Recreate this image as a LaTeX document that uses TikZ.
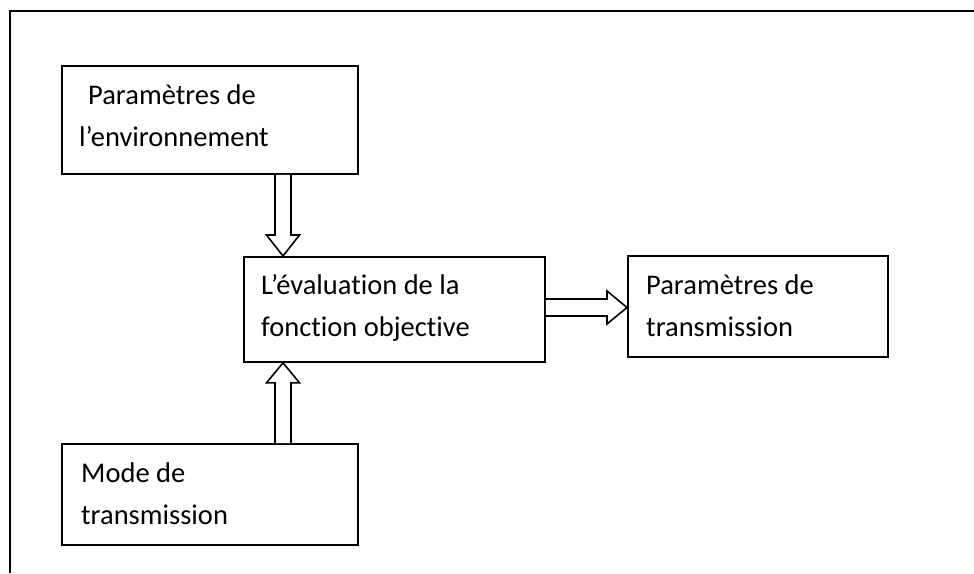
\documentclass[tikz,border=0pt]{standalone}
\usepackage{fontspec}
\setmainfont{Carlito}[Ligatures={NoCommon}]
\usetikzlibrary{calc}
\begin{document}
\begin{tikzpicture}[x=1pt,y=-1pt,
  box/.style={draw, line width=1.8pt, rectangle, inner sep=0pt, anchor=north west},
  lbl/.style={anchor=base west, inner sep=0pt, align=left, font=\fontsize{28.5}{42}\selectfont},
  blockarr/.style={draw, line width=1.6pt, fill=white, line join=miter}
]
\useasboundingbox (0,0) rectangle (974,573);
% outer frame (partly cut)
\draw[line width=2.3pt] (10,573) -- (10,11) -- (974,11);
% boxes
\node[box, minimum width=296pt, minimum height=108pt] (env) at (61,65) {};
\node[box, minimum width=301pt, minimum height=105pt] (eval) at (243,256) {};
\node[box, minimum width=296pt, minimum height=101pt] (mode) at (61,443) {};
\node[box, minimum width=260pt, minimum height=101pt] (trans) at (627,255) {};
% labels (anchored at the baseline of their last line)
\node[lbl] (tenv) at (79,146) {\hspace*{9pt}Paramètres de\\l’environnement};
\node[lbl] (teval) at (261,336) {L’évaluation de la\\fonction objective};
\node[lbl] (tmode) at (81,524) {Mode de\\transmission};
\node[lbl] (ttrans) at (646,336) {Paramètres de\\transmission};
% block arrows
\coordinate (a1s) at (env.south -| 283,0);
\coordinate (a1e) at (eval.north -| 283,0);
\draw[blockarr] ($(a1s)+(-8,0)$) -- ($(a1e)+(-8,-21)$) -- ($(a1e)+(-16.5,-21)$) -- (a1e)
  -- ($(a1e)+(16.5,-21)$) -- ($(a1e)+(8,-21)$) -- ($(a1s)+(8,0)$);
\coordinate (a2s) at (mode.north -| 283,0);
\coordinate (a2e) at (eval.south -| 283,0);
\draw[blockarr] ($(a2s)+(-8,0)$) -- ($(a2e)+(-8,20)$) -- ($(a2e)+(-16.5,20)$) -- (a2e)
  -- ($(a2e)+(16.5,20)$) -- ($(a2e)+(8,20)$) -- ($(a2s)+(8,0)$);
\coordinate (a3s) at (eval.east |- 0,307.5);
\coordinate (a3e) at (trans.west |- 0,307.5);
\draw[blockarr] ($(a3s)+(0,-8.5)$) -- ($(a3e)+(-20,-8.5)$) -- ($(a3e)+(-20,-16.5)$) -- (a3e)
  -- ($(a3e)+(-20,16.5)$) -- ($(a3e)+(-20,8.5)$) -- ($(a3s)+(0,8.5)$);
\end{tikzpicture}
\end{document}
